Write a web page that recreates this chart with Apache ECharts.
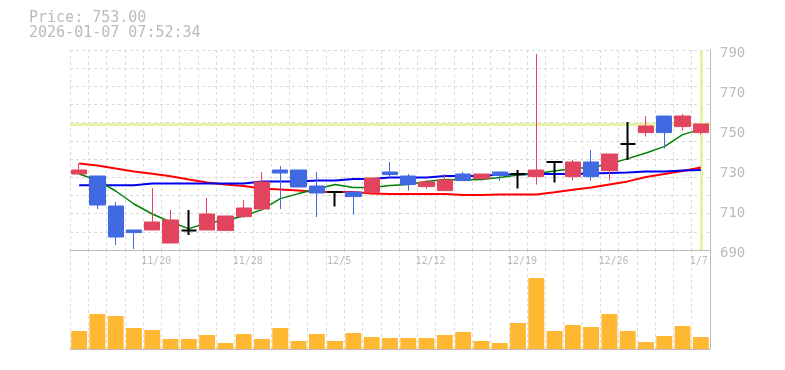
<!DOCTYPE html>
<html><head><meta charset="utf-8">
<script src="https://cdn.jsdelivr.net/npm/echarts@6/dist/echarts.min.js"></script>
<style>html,body{margin:0;padding:0;background:#fff}#c{width:785px;height:370px}</style>
</head><body><div id="c"></div>
<script>
const categories = ['11/14','11/17','11/18','11/19','11/20','11/21','11/25','11/26','11/27','11/28',
  '12/1','12/2','12/3','12/4','12/5','12/8','12/9','12/10','12/11','12/12',
  '12/15','12/16','12/17','12/18','12/19','12/22','12/23','12/24','12/25','12/26',
  '12/29','12/30','1/5','1/6','1/7'];
const opens  = [728,727,712,700,700,693.5,699.8,700,699.8,706.7,710.5,730,730,722,719,719,718.7,729,727,721.7,719.7,728,725.7,729,728,726.7,734,726.7,734,729.7,743,748.7,757,751.7,748.7];
const closes = [730,712.5,696.5,698.7,704,705,699.8,708,707,711,724,728.5,721.5,718.5,719,716.7,726,727.7,722.7,724,725,724.7,728,727.3,728,730,734,734,726.7,738,743,752,748.7,757,753];
const lows   = [728,710.5,692.5,690.5,700,693.5,697.5,700,699.8,706,710.5,710.5,721.5,706.5,711.7,707.7,718,726,719.7,720.7,719.7,724.7,724.7,724.7,720.7,722.7,723.7,724.7,724.7,724.7,735,746.7,740.7,749.7,747.7];
const highs  = [733.3,727,714,700,721,710,710,716,707,715,729,732,730,729,719,719,726,734,728,725,728,729,728,729,730,788,734,735,740,738,754,757,757,758,753];
const maGreen = [728,724.8,719.5,713,708,704,700.7,703.5,704.7,707,710.2,715.7,718.2,720.5,722.8,721.3,721.3,722.2,722.7,724.2,725.3,725,725.2,726.2,727.5,728.2,729.5,730.7,731.2,733,735.7,738.5,741.7,747.7,750.3];
const maBlue  = [722.4,722.4,722.4,722.4,723.3,723.3,723.3,723.3,723.3,723.3,724.2,724.2,724.2,724.8,724.8,725.5,725.5,726.2,726.2,726.2,727,727,727,727.7,727.7,728,728,728,728.3,728.5,728.7,729.2,729.2,729.7,730];
const maRed   = [733.3,732.3,730.7,729.3,728.1,726.9,725.2,723.8,722.7,722,720.7,720.2,719.7,719,719,719,718.3,718,718,718,718,717.5,717.5,717.8,717.8,717.8,718.9,720.1,721.2,722.8,724.3,726.5,728,729.5,731.2];
const volumes = [18,35,33,21,19,10,10,14,6,15,10,21,8,15,8,16,12,11,11,11,14,17,8,6,26,71,18,24,22,35,18,7,13,23,12];
const priceTicks = [690,710,730,750,770,790];
const xLabelDates = ['11/20','11/28','12/5','12/12','12/19','12/26','1/7'];
const currentPrice = 753.00;
const timestamp = '2026-01-07 07:52:34';

const MONO = '"DejaVu Sans Mono","Liberation Mono",monospace';
const lastCat = categories[categories.length - 1];
const candleData = categories.map((c, i) => {
  const d = { value: [opens[i], closes[i], lows[i], highs[i]] };
  if (opens[i] === closes[i]) d.itemStyle = { borderWidth: 2 };
  return d;
});
const gridLine = { show: true, lineStyle: { color: '#dadada', type: [3, 3], width: 1 } };
const chart = echarts.init(document.getElementById('c'), null, { renderer: 'canvas' });
chart.setOption({
  animation: false,
  backgroundColor: '#fff',
  grid: [
    { left: 70, right: 75, top: 50, height: 200 },
    { left: 70, right: 75, top: 250, height: 99 }
  ],
  graphic: [
    { type: 'text', x: 29, y: 18, style: { text: 'Price: ' + currentPrice.toFixed(2), fill: '#bbb', font: '15px ' + MONO, verticalAlign: 'middle' } },
    { type: 'text', x: 29, y: 33, style: { text: timestamp, fill: '#bbb', font: '15px ' + MONO, verticalAlign: 'middle' } }
  ],
  xAxis: [
    { type: 'category', gridIndex: 0, data: categories, boundaryGap: true,
      axisLine: { show: true, lineStyle: { color: '#bbb' } }, axisTick: { show: false },
      axisLabel: { interval: (i, v) => xLabelDates.includes(v), color: '#bbb', fontSize: 10, fontFamily: MONO, margin: 6,
        formatter: v => v === lastCat ? '{l|' + v + '}' : '{n|' + v + '}',
        rich: {
          n: { color: '#bbb', fontSize: 10, fontFamily: MONO, padding: [0, 0, 0, 8] },
          l: { color: '#bbb', fontSize: 10, fontFamily: MONO, padding: [0, 4, 0, 0] }
        } },
      splitLine: Object.assign({ interval: 0 }, gridLine) },
    { type: 'category', gridIndex: 1, data: categories, boundaryGap: true,
      axisLine: { show: true, lineStyle: { color: '#bbb' } }, axisTick: { show: false },
      axisLabel: { show: false },
      splitLine: Object.assign({ interval: 0 }, gridLine) }
  ],
  yAxis: [
    { type: 'value', gridIndex: 0, position: 'right',
      min: priceTicks[0], max: priceTicks[priceTicks.length - 1], interval: priceTicks[1] - priceTicks[0],
      axisLine: { show: true, lineStyle: { color: '#bbb' } }, axisTick: { show: false },
      axisLabel: { color: '#bbb', fontSize: 14, fontFamily: MONO, margin: 10,
        formatter: v => '{y|' + v + '}',
        rich: { y: { color: '#bbb', fontSize: 14, fontFamily: MONO, padding: [6, 0, 0, 0] } } },
      splitLine: { show: false } },
    { type: 'value', gridIndex: 0, position: 'left', min: 0, max: 11, interval: 1,
      axisLine: { show: false }, axisTick: { show: false }, axisLabel: { show: false },
      splitLine: gridLine },
    { type: 'value', gridIndex: 1, position: 'right', min: 0, max: 99,
      axisLine: { show: true, lineStyle: { color: '#bbb' } }, axisTick: { show: false },
      axisLabel: { show: false }, splitLine: { show: false } }
  ],
  series: [
    { type: 'line', name: 'MA red', xAxisIndex: 0, yAxisIndex: 0, data: maRed, symbol: 'none', z: 1, silent: true,
      lineStyle: { color: '#ff0000', width: 2 } },
    { type: 'line', name: 'MA blue', xAxisIndex: 0, yAxisIndex: 0, data: maBlue, symbol: 'none', z: 1, silent: true,
      lineStyle: { color: '#0000ee', width: 2 } },
    { type: 'line', name: 'MA green', xAxisIndex: 0, yAxisIndex: 0, data: maGreen, symbol: 'none', z: 1, silent: true,
      lineStyle: { color: '#008000', width: 1.5 } },
    { type: 'candlestick', xAxisIndex: 0, yAxisIndex: 0, data: candleData, barWidth: '87%', z: 2,
      itemStyle: { color: '#e2445f', color0: '#4169e1', borderColor: '#e2445f', borderColor0: '#4169e1', borderColorDoji: '#000', borderWidth: 1 },
      markLine: { z: 0, silent: true, symbol: ['none', 'none'], label: { show: false },
        lineStyle: { color: '#e6f3a6', width: 3, type: 'solid' },
        data: [{ yAxis: currentPrice }, { xAxis: lastCat }] } },
    { type: 'bar', xAxisIndex: 1, yAxisIndex: 2, data: volumes, barWidth: '87%',
      itemStyle: { color: '#ffb833' } }
  ]
});
</script></body></html>
